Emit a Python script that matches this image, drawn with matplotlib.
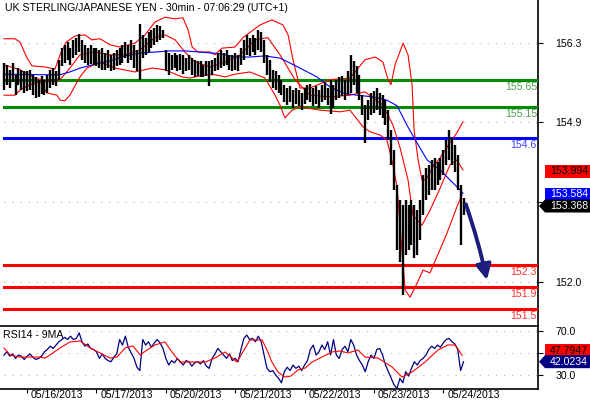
import matplotlib
matplotlib.use('Agg')
import matplotlib.pyplot as plt
from matplotlib.patches import Polygon
import numpy as np

plt.rcParams['font.family'] = ['Liberation Sans', 'DejaVu Sans']
plt.rcParams['lines.scale_dashes'] = False

title = "UK STERLING/JAPANESE YEN - 30min - 07:06:29 (UTC+1)"
date_labels = ["05/16/2013", "05/17/2013", "05/20/2013", "05/21/2013",
               "05/22/2013", "05/23/2013", "05/24/2013"]
date_idx = [8, 32, 56, 80, 104, 128, 152]

highs = [155.96, 155.92, 155.83, 155.96, 155.74, 155.87, 155.83, 155.80,
         155.80, 155.83, 155.74, 155.69, 155.65, 155.72, 155.65, 155.74, 155.83, 155.87, 155.80, 156.01,
         156.23, 156.28, 156.33, 156.23, 156.37, 156.41, 156.48, 156.37, 156.28, 156.23, 156.28, 156.23,
         156.23, 156.19, 156.23, 156.14, 156.19, 156.10, 156.14, 156.19, 156.23, 156.28, 156.33, 156.28,
         156.37, 156.28, 156.19, 156.66, 156.46, 156.41, 156.51, 156.55, 156.59, 156.64, 156.62, 156.55,
         156.19, 156.14, 156.10, 156.14, 156.10, 156.12, 156.10, 156.05, 156.10, 156.05, 156.01, 155.98,
         155.98, 155.92, 155.98, 155.98, 156.01, 156.05, 156.14, 156.19, 156.14, 156.19, 156.10, 156.10,
         156.14, 156.10, 156.23, 156.37, 156.46, 156.41, 156.46, 156.41, 156.55, 156.51, 156.37, 156.10,
         156.01, 155.83, 155.80, 155.74, 155.65, 155.55, 155.50, 155.53, 155.46, 155.50, 155.46, 155.41,
         155.50, 155.55, 155.57, 155.50, 155.53, 155.46, 155.55, 155.60, 155.50, 155.65, 155.55, 155.65,
         155.69, 155.72, 155.65, 155.80, 156.10, 155.98, 155.90, 155.74, 155.37, 155.19, 155.28, 155.41,
         155.44, 155.50, 155.41, 155.37, 155.28, 155.10, 154.74, 154.38, 153.75, 153.48, 153.38, 153.48,
         153.38, 153.48, 153.38, 153.29, 153.48, 153.93, 154.05, 154.11, 154.20, 154.23, 154.16, 154.23,
         154.38, 154.56, 154.74, 154.60, 154.47, 154.29, 153.75, 153.52]
lows = [155.46, 155.55, 155.50, 155.61, 155.37, 155.55, 155.46, 155.41,
        155.44, 155.46, 155.37, 155.32, 155.34, 155.39, 155.37, 155.41, 155.50, 155.55, 155.53, 155.65,
        155.90, 155.96, 156.01, 155.92, 156.05, 156.10, 156.15, 156.01, 155.96, 155.92, 155.94, 155.92,
        155.90, 155.87, 155.83, 155.83, 155.87, 155.80, 155.83, 155.90, 155.92, 155.96, 156.05, 155.96,
        156.01, 155.87, 155.80, 155.65, 156.05, 156.10, 156.15, 156.23, 156.28, 156.33, 156.37, 156.41,
        155.80, 155.74, 155.83, 155.87, 155.80, 155.83, 155.76, 155.80, 155.83, 155.74, 155.69, 155.72,
        155.69, 155.69, 155.72, 155.53, 155.74, 155.80, 155.83, 155.87, 155.90, 155.92, 155.83, 155.80,
        155.83, 155.80, 155.92, 156.01, 156.10, 156.08, 156.15, 156.10, 156.19, 156.15, 155.96, 155.74,
        155.61, 155.50, 155.46, 155.41, 155.37, 155.24, 155.19, 155.24, 155.14, 155.21, 155.17, 155.10,
        155.21, 155.28, 155.24, 155.17, 155.21, 155.14, 155.24, 155.28, 155.19, 155.03, 155.14, 155.28,
        155.32, 155.35, 155.28, 155.37, 155.41, 155.55, 155.41, 155.28, 155.01, 154.51, 154.92, 155.01,
        155.05, 155.10, 155.01, 154.96, 154.83, 154.56, 154.11, 153.66, 152.57, 152.35, 151.76, 152.48,
        152.57, 152.66, 152.43, 152.48, 152.75, 153.20, 153.48, 153.57, 153.66, 153.66, 153.75, 153.84,
        153.93, 154.11, 154.20, 154.11, 153.98, 153.66, 152.66, 153.20]
last_close = 153.368

upper_idx = [0, 3.8, 5.5, 8.0, 9.7, 14.2, 17.6, 19.4, 21.5, 24.6, 28.0, 30.4, 33.2, 36.7, 40.1, 45.3,
             48.8, 52.2, 55.7, 59.2, 61.9, 63.7, 65.1, 67.1, 71.3, 73.0, 75.4, 79.9, 82.7, 88.6, 92.7,
             96.5, 98.3, 100.0, 102.4, 105.9, 112.8, 119.7, 122.1, 124.9, 128.4, 131.1, 132.9, 133.9,
             135.3, 138.1, 139.8, 141.2, 141.9, 143.3, 144.6, 146.0, 148.1, 150.9, 154.3, 156.7, 158.8]
upper = [156.39, 156.39, 156.33, 156.04, 155.90, 155.88, 155.84, 156.10, 156.33, 156.44, 156.46, 156.37,
         156.39, 156.28, 156.24, 156.31, 156.46, 156.69, 156.78, 156.75, 156.77, 156.55, 156.24, 156.15,
         156.15, 156.10, 156.22, 156.24, 156.41, 156.64, 156.73, 156.64, 156.46, 156.01, 155.50, 155.50,
         155.65, 155.68, 155.83, 156.01, 156.06, 155.97, 155.65, 155.56, 155.92, 156.31, 156.10, 155.56,
         154.74, 154.20, 153.84, 153.84, 154.05, 154.24, 154.51, 154.69, 154.89]

mid_idx = [0, 5.5, 10.7, 15.9, 19.4, 22.8, 26.3, 31.5, 36.7, 41.9, 47.1, 52.2, 55.7, 59.2, 62.6, 66.1,
           71.3, 76.5, 81.7, 86.9, 91.3, 95.5, 100.7, 105.9, 112.8, 119.7, 124.9, 131.1, 134.6, 137.0,
           139.8, 141.5, 144.6, 147.4, 150.9, 154.3, 156.7, 158.8]
mid = [155.92, 155.83, 155.68, 155.61, 155.65, 155.86, 156.10, 156.15, 156.10, 156.10, 156.19, 156.41,
       156.46, 156.37, 156.15, 155.97, 155.88, 155.97, 156.10, 156.37, 156.41, 156.10, 155.65, 155.37,
       155.34, 155.37, 155.43, 155.19, 154.83, 154.43, 153.84, 153.20, 153.02, 153.29, 153.69, 154.11,
       154.20, 154.02]

lower_idx = [0, 3.8, 5.5, 9.0, 12.5, 14.9, 18.3, 19.4, 21.1, 22.8, 25.3, 26.3, 28.7, 33.2, 38.4, 45.3,
             48.8, 51.2, 55.7, 61.6, 64.4, 69.6, 73.0, 76.5, 79.9, 85.1, 90.3, 93.8, 95.5, 97.2, 99.7,
             102.4, 109.3, 116.3, 119.7, 124.2, 126.6, 130.1, 132.5, 134.6, 136.0, 137.7, 138.8, 140.5,
             142.9, 145.0, 147.4, 149.8, 153.3, 156.7, 158.5]
lower = [155.37, 155.37, 155.46, 155.56, 155.61, 155.41, 155.37, 155.28, 155.27, 155.37, 155.61, 155.70,
         155.86, 155.97, 155.86, 155.79, 155.83, 155.86, 155.83, 155.70, 155.68, 155.74, 155.74, 155.70,
         155.75, 155.79, 155.68, 155.37, 155.19, 154.96, 155.10, 155.16, 155.10, 155.07, 155.10, 154.80,
         154.71, 154.65, 154.56, 154.11, 153.71, 152.57, 151.85, 151.72, 151.97, 152.21, 152.16, 152.45,
         152.88, 153.35, 153.58]

ma_idx = [0, 12.5, 19.4, 22.8, 26.3, 31.5, 36.7, 41.9, 47.1, 52.2, 57.4, 62.6, 67.8, 74.7, 79.9, 85.1,
          90.3, 95.5, 99.0, 102.4, 108.3, 112.8, 117.3, 122.1, 127.7, 132.5, 136.0, 139.4, 142.9, 146.4,
          150.9, 154.3, 157.8, 158.8]
ma = [155.75, 155.74, 155.74, 155.79, 155.86, 155.93, 155.99, 156.08, 156.13, 156.15, 156.17, 156.17,
      156.15, 156.12, 156.06, 156.06, 156.08, 156.04, 155.95, 155.86, 155.70, 155.52, 155.41, 155.37,
      155.34, 155.28, 155.18, 154.83, 154.51, 154.20, 154.02, 153.84, 153.66, 153.60]
ma_last = 153.584
mid_last = 153.994

levels_green = [155.65, 155.15]
levels_blue = [154.6]
levels_red = [152.3, 151.9, 151.5]

proj_start = (159.8, 153.40)
proj_end = (167.1, 152.03)

rsi = [48, 51, 47, 49, 45, 48, 47, 44,
       47, 49, 46, 44, 45, 47, 51, 53, 56, 54, 57, 60, 62, 64, 62, 65, 62, 63, 68, 60, 56, 58, 54, 53,
       51, 45, 49, 45, 43, 42, 46, 49, 62, 57, 65, 55, 50, 45, 37, 34, 62, 57, 60, 55, 59, 62, 59, 54,
       45, 39, 43, 41, 45, 42, 39, 43, 42, 38, 41, 42, 40, 43, 38, 36, 45, 49, 54, 51, 48, 45, 49, 43,
       45, 42, 53, 63, 66, 62, 63, 60, 65, 60, 48, 36, 33, 34, 30, 27, 23, 33, 37, 34, 39, 36, 38, 34,
       39, 43, 53, 57, 48, 51, 57, 53, 60, 48, 62, 48, 45, 53, 56, 51, 62, 57, 48, 43, 39, 33, 42, 48,
       45, 53, 54, 48, 39, 33, 27, 21, 18, 27, 23, 33, 29, 36, 42, 39, 43, 45, 48, 53, 56, 54, 57, 55,
       59, 62, 63, 60, 58, 53, 34, 42.02]
rsi_last = 42.0234
rsi_ma_idx = [0, 2.1, 5.5, 12.5, 14.2, 15.9, 19.4, 22.8, 26.3, 29.8, 33.2, 36.7, 39.1, 41.9, 44.6, 47.1,
              49.5, 52.2, 55.7, 58.1, 60.9, 66.1, 69.6, 73.0, 76.5, 80.6, 85.1, 89.3, 91.0, 92.7, 94.8,
              97.2, 99.3, 101.7, 104.2, 106.6, 110.0, 113.5, 116.3, 119.0, 122.5, 124.9, 129.4, 134.3,
              137.7, 141.2, 145.7, 150.2, 153.6, 156.1, 158.5]
rsi_ma = [54.4, 48.1, 46.2, 46.2, 45.3, 48.1, 54.4, 59.8, 60.7, 54.4, 49.9, 45.3, 46.2, 54.4, 56.2, 48.1,
          52.6, 57.1, 59.8, 50.8, 41.7, 41.7, 41.7, 45.3, 50.8, 41.7, 61.6, 61.6, 52.6, 41.7, 32.7,
          28.2, 29.1, 34.5, 36.3, 41.7, 46.2, 50.8, 51.7, 49.9, 52.6, 46.2, 45.3, 37.2, 28.2, 32.7,
          41.7, 52.6, 57.1, 57.1, 47.79]
rsi_ma_last = 47.7947

W, H = 590, 400
FS = 7.6
fig = plt.figure(figsize=(W / 100, H / 100), dpi=100)
ax = fig.add_axes([0, 1 - 326 / H, 538 / W, 326 / H])
ax2 = fig.add_axes([0, 1 - 389 / H, 538 / W, 63 / H])

XMIN, XMAX = -4 / 2.89, 534 / 2.89
GRID = dict(color='#b4b4b4', lw=0.8, ls=(0, (0.8, 5.0)))

# ---- main panel ----
ax.set_xlim(XMIN, XMAX)
ax.set_ylim(151.20, 157.09)
yt = [152.0, 153.44, 154.88, 156.32]
ax.set_yticks(yt)
ax.set_yticklabels(['152.0', '', '154.9', '156.3'])
for v in yt:
    ax.axhline(v, xmin=4 / 538, **GRID, zorder=0)
ax.yaxis.tick_right()
ax.tick_params(axis='y', direction='out', length=3.5, width=0.8, pad=9, labelsize=FS, colors='black')
ax.set_xticks([])
for s in ['left', 'top', 'bottom']:
    ax.spines[s].set_visible(False)
ax.spines['right'].set_linewidth(1.2)

for lv in levels_green:
    ax.axhline(lv, xmin=4 / 538, color='#008c00', lw=2.2, zorder=3)
    ax.annotate(f"{lv:.2f}", xy=(1, lv), xycoords=('axes fraction', 'data'), xytext=(-1, -7),
                textcoords='offset pixels', ha='right', va='center', fontsize=FS, color='#4f9f4f')
for lv in levels_blue:
    ax.axhline(lv, xmin=4 / 538, color='#0000ff', lw=2.2, zorder=3)
    ax.annotate(f"{lv:.1f}", xy=(1, lv), xycoords=('axes fraction', 'data'), xytext=(-1, -7),
                textcoords='offset pixels', ha='right', va='center', fontsize=FS, color='#4040ff')
for lv in levels_red:
    ax.axhline(lv, xmin=4 / 538, color='#ff0000', lw=2.2, zorder=3)
    ax.annotate(f"{lv:.1f}", xy=(1, lv), xycoords=('axes fraction', 'data'), xytext=(-1, -7),
                textcoords='offset pixels', ha='right', va='center', fontsize=FS, color='#ff3030')

ax.plot(upper_idx, upper, color='#ff0000', lw=0.8, zorder=4)
ax.plot(mid_idx, mid, color='#ff0000', lw=0.8, zorder=4)
ax.plot(lower_idx, lower, color='#ff0000', lw=0.8, zorder=4)
ax.plot(ma_idx, ma, color='#0000ff', lw=0.8, zorder=4)

idx = np.arange(len(highs))
ax.vlines(idx, lows, highs, color='black', lw=1.7, zorder=5)

ax.annotate('', xy=proj_end, xytext=proj_start,
            arrowprops=dict(arrowstyle='-|>,head_length=0.9,head_width=0.45', color='#1c1c7c',
                            lw=2.8, shrinkA=0, shrinkB=0, connectionstyle='arc3,rad=-0.03'),
            zorder=6)

fig.text(5 / W, 1 - 8 / H, title, fontsize=FS, color='black', ha='left', va='center')

# ---- RSI panel ----
ax2.set_xlim(XMIN, XMAX)
ax2.set_ylim(17.4, 74.2)
ax2.yaxis.tick_right()
ax2.set_yticks([30, 50, 70])
ax2.set_yticklabels(['30.0', '', '70.0'])
for v in [30, 50, 70]:
    ax2.axhline(v, xmin=4 / 538, **GRID, zorder=0)
ax2.tick_params(axis='y', direction='out', length=3.5, width=0.8, pad=9, labelsize=FS)
ax2.spines['left'].set_visible(False)
for s in ['top', 'bottom', 'right']:
    ax2.spines[s].set_linewidth(1.2)
ax2.set_xticks(date_idx)
ax2.set_xticklabels([])
ax2.tick_params(axis='x', direction='out', length=3, width=0.8)
for d, lab in zip(date_idx, date_labels):
    ax2.annotate(lab, xy=(d, 0), xycoords=('data', 'axes fraction'), xytext=(4, -1),
                 textcoords='offset pixels', ha='left', va='top', fontsize=FS)
ax2.plot(np.arange(len(rsi)), rsi, color='#000080', lw=0.9, zorder=4)
ax2.plot(rsi_ma_idx, rsi_ma, color='#ff0000', lw=0.8, zorder=5)
ax2.text(3 / 538, 0.86, "RSI14 - 9MA", transform=ax2.transAxes, fontsize=FS, ha='left', va='center')


def ypx(axis, v):
    return H - axis.transData.transform((0, v))[1]


def tag(yc, text, face, tcolor, arrow=False, x0=545, x1=590, h=13):
    if arrow:
        pts = [(539, yc), (545, yc - h / 2), (x1, yc - h / 2), (x1, yc + h / 2), (545, yc + h / 2)]
    else:
        pts = [(x0, yc - h / 2), (x1, yc - h / 2), (x1, yc + h / 2), (x0, yc + h / 2)]
    fpts = [(px / W, 1 - py / H) for px, py in pts]
    fig.patches.append(Polygon(fpts, closed=True, transform=fig.transFigure,
                               facecolor=face, edgecolor='none'))
    fig.text(550 / W, 1 - yc / H, text, fontsize=FS, color=tcolor, ha='left', va='center')


tag(ypx(ax, mid_last), f"{mid_last:.3f}", '#ff0000', 'black')
tag(ypx(ax, ma_last), f"{ma_last:.3f}", '#0000ff', 'white')
tag(ypx(ax, last_close), f"{last_close:.3f}", 'black', 'white', arrow=True)
tag(ypx(ax2, rsi_ma_last) - 4.5, f"{rsi_ma_last:.4f}", '#ff0000', 'black')
tag(ypx(ax2, rsi_last), f"{rsi_last:.4f}", '#000080', 'white', arrow=True)

fig.savefig('out.png', dpi=100)
